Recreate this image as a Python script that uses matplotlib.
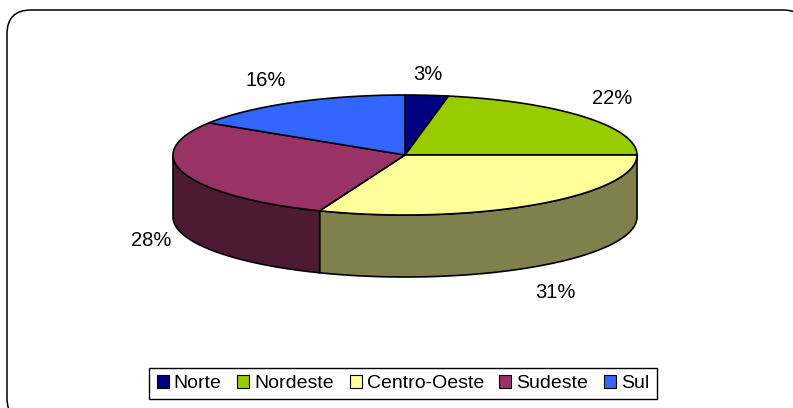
import numpy as np
import matplotlib
matplotlib.use("Agg")
import matplotlib.pyplot as plt
from matplotlib.patches import Polygon, FancyBboxPatch, Patch

plt.rcParams['font.family'] = ['Liberation Sans', 'DejaVu Sans']

regions = ["Norte", "Nordeste", "Centro-Oeste", "Sudeste", "Sul"]
shares = [3, 22, 31, 28, 16]
colors = ["#000080", "#99CC00", "#FFFF99", "#993366", "#3366FF"]
label_pos = [(428, 75), (612, 99), (555, 293), (151, 241), (266, 80)]

W, H = 793, 408
cx, cy = 405, 155      # pie centre (pixels)
a, b = 232, 60         # ellipse semi axes
depth = 62


def arc(t0, t1, yoff=0, n=120):
    t = np.radians(np.linspace(t0, t1, n))
    return np.column_stack([cx + a * np.cos(t), cy - b * np.sin(t) + yoff])


def darker(c, f=0.5):
    r, g, bl = matplotlib.colors.to_rgb(c)
    return (r * f, g * f, bl * f)


fig = plt.figure(figsize=(W / 100, H / 100), dpi=100)
ax = fig.add_axes([0, 0, 1, 1])
ax.set_xlim(0, W)
ax.set_ylim(H, 0)
ax.axis("off")

# outer rounded frame
ax.add_patch(FancyBboxPatch((7, 10), 800, 412,
                            boxstyle="round,pad=0,rounding_size=24",
                            fc="white", ec="black", lw=1.1, zorder=0))

total = sum(shares)
cum = np.concatenate([[0], np.cumsum(shares)]) / total
starts = 90 - 360 * cum[:-1]
ends = 90 - 360 * cum[1:]

# side walls (front half only)
for s, e, c in zip(starts, ends, colors):
    lo, hi = max(e, -180), min(s, 0)
    if lo < hi:
        top = arc(hi, lo)
        bot = arc(lo, hi, depth)
        ax.add_patch(Polygon(np.vstack([top, bot]), closed=True,
                             fc=darker(c), ec="black", lw=1.2, zorder=2))

# top faces
for s, e, c in zip(starts, ends, colors):
    pts = np.vstack([[cx, cy], arc(s, e)])
    ax.add_patch(Polygon(pts, closed=True, fc=c, ec="black", lw=1.2, zorder=3))

for (x, y), v in zip(label_pos, shares):
    ax.text(x, y, f"{v}%", ha="center", va="center", fontsize=14.5, zorder=4)

handles = [Patch(fc=c, ec="black", lw=0.8) for c in colors]
leg = ax.legend(handles, regions, loc="center", ncol=5,
                bbox_to_anchor=(403 / W, 1 - 383.5 / H),
                bbox_transform=fig.transFigure, fontsize=14,
                frameon=True, fancybox=False, edgecolor="black",
                framealpha=1, handlelength=0.62, handleheight=0.62,
                handletextpad=0.26, columnspacing=0.8, borderpad=0.38,
                borderaxespad=0)
leg.get_frame().set_linewidth(1)

fig.savefig("out.png", dpi=100)
